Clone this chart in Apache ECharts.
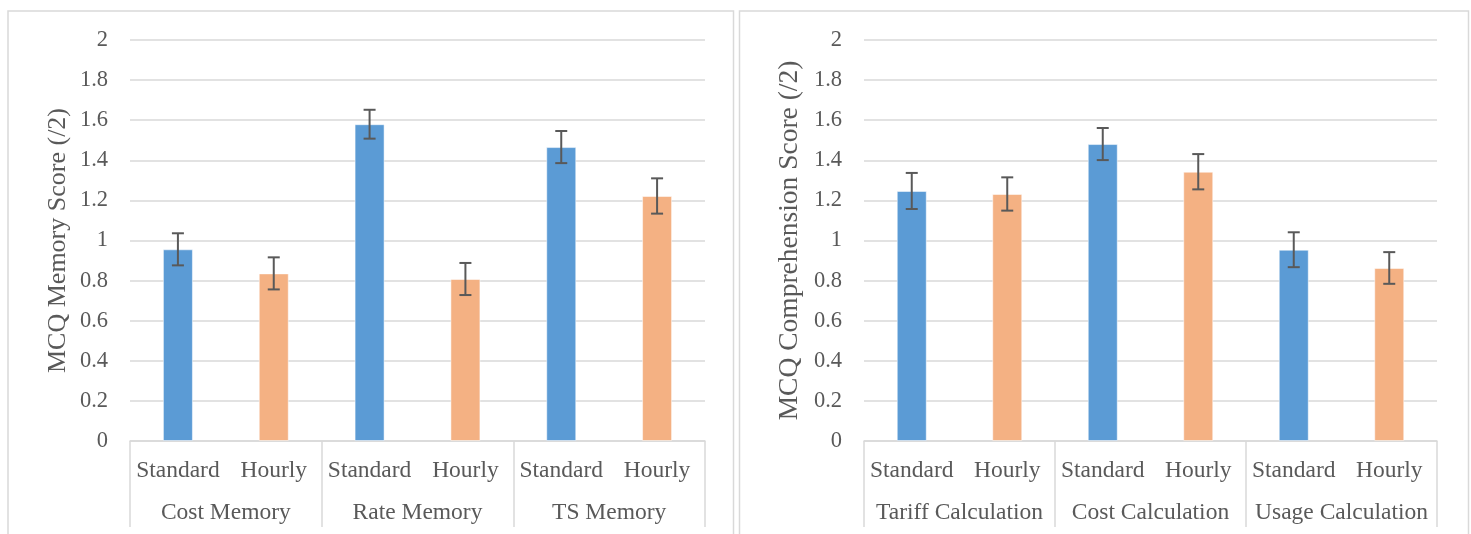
<!DOCTYPE html>
<html>
<head>
<meta charset="utf-8">
<script src="https://cdn.jsdelivr.net/npm/echarts@6/dist/echarts.min.js"></script>
<style>html,body{margin:0;padding:0;background:#fff;}#c{width:1471px;height:534px;}</style>
</head>
<body>
<div id="c"></div>
<script>
// ---- data ----
const conditions = ['Standard', 'Hourly'];
const memoryGroups = ['Cost Memory', 'Rate Memory', 'TS Memory'];
const memoryStandard = [0.956, 1.58, 1.466];
const memoryHourly = [0.836, 0.808, 1.222];
const memoryStandardErr = [0.08, 0.072, 0.08];
const memoryHourlyErr = [0.08, 0.08, 0.088];

const compGroups = ['Tariff Calculation', 'Cost Calculation', 'Usage Calculation'];
const compStandard = [1.247, 1.481, 0.954];
const compHourly = [1.232, 1.343, 0.863];
const compStandardErr = [0.09, 0.08, 0.087];
const compHourlyErr = [0.083, 0.088, 0.079];

const yTitles = ['MCQ Memory Score (/2)', 'MCQ Comprehension Score (/2)'];

// ---- build ----
const FONT = 'Liberation Serif';
const TXT = '#595959';
const GRIDC = '#d9d9d9';
const COLORS = ['#5B9BD5', '#F4B183'];
const TITLE_SIZES = [26, 27.5];
const TITLE_GAPS = [59, 60];

function build(groups, std, hr, stdE, hrE) {
  const cats = [], bars = [], errs = [];
  groups.forEach((g, i) => {
    [[std, stdE], [hr, hrE]].forEach((pair, k) => {
      const idx = cats.length;
      cats.push(conditions[k]);
      bars.push({value: pair[0][i], itemStyle: {color: COLORS[k]}});
      errs.push([idx, pair[0][i] - pair[1][i], pair[0][i] + pair[1][i]]);
    });
  });
  return {cats, bars, errs};
}
const mem = build(memoryGroups, memoryStandard, memoryHourly, memoryStandardErr, memoryHourlyErr);
const comp = build(compGroups, compStandard, compHourly, compStandardErr, compHourlyErr);

function errRender(params, api) {
  const i = api.value(0);
  const lo = api.coord([i, api.value(1)]);
  const hi = api.coord([i, api.value(2)]);
  const x = lo[0], hw = 6;
  const st = {stroke: '#595959', lineWidth: 2};
  return {type: 'group', children: [
    {type: 'line', shape: {x1: x, y1: lo[1], x2: x, y2: hi[1]}, style: st},
    {type: 'line', shape: {x1: x - hw, y1: lo[1], x2: x + hw, y2: lo[1]}, style: st},
    {type: 'line', shape: {x1: x - hw, y1: hi[1], x2: x + hw, y2: hi[1]}, style: st}
  ]};
}

const grids = [
  {left: 130, top: 40, width: 575, height: 401},
  {left: 864, top: 40, width: 573, height: 401}
];

const xAxis = [], yAxis = [], series = [];
[[mem, memoryGroups], [comp, compGroups]].forEach((d, gi) => {
  const sub = d[0], groups = d[1];
  xAxis.push({
    type: 'category', gridIndex: gi, data: sub.cats, position: 'bottom',
    axisLine: {show: true, lineStyle: {color: GRIDC, width: 1.5}},
    axisTick: {show: false},
    axisLabel: {interval: 0, margin: 18, fontFamily: FONT, fontSize: 23.5, color: TXT}
  });
  xAxis.push({
    type: 'category', gridIndex: gi, data: groups, position: 'bottom',
    axisLine: {show: false},
    axisTick: {show: true, length: 86, interval: 0, lineStyle: {color: GRIDC, width: 1.5}},
    axisLabel: {interval: 0, margin: 60, fontFamily: FONT, fontSize: 23.5, color: TXT}
  });
  yAxis.push({
    type: 'value', gridIndex: gi, min: 0, max: 2, interval: 0.2,
    name: yTitles[gi], nameLocation: 'middle', nameGap: TITLE_GAPS[gi],
    nameTextStyle: {fontFamily: FONT, fontSize: TITLE_SIZES[gi], color: TXT},
    axisLine: {show: false}, axisTick: {show: false},
    axisLabel: {margin: 22, fontFamily: FONT, fontSize: 22.5, color: TXT},
    splitLine: {lineStyle: {color: GRIDC, width: 1.5}}
  });
  series.push({
    type: 'bar', xAxisIndex: gi * 2, yAxisIndex: gi, data: sub.bars, barWidth: 30,
    itemStyle: {borderColor: 'rgba(255,255,255,0.5)', borderWidth: 1}
  });
  series.push({
    type: 'custom', xAxisIndex: gi * 2, yAxisIndex: gi, data: sub.errs,
    renderItem: errRender, z: 5
  });
});

const chart = echarts.init(document.getElementById('c'), null, {renderer: 'canvas'});
chart.setOption({
  animation: false,
  backgroundColor: '#fff',
  grid: grids,
  xAxis: xAxis,
  yAxis: yAxis,
  series: series,
  graphic: [
    {type: 'rect', shape: {x: 8, y: 11, width: 725.5, height: 540}, style: {fill: 'none', stroke: GRIDC, lineWidth: 1.5}, silent: true},
    {type: 'rect', shape: {x: 739.5, y: 11, width: 729, height: 540}, style: {fill: 'none', stroke: GRIDC, lineWidth: 1.5}, silent: true}
  ]
});
</script>
</body>
</html>
